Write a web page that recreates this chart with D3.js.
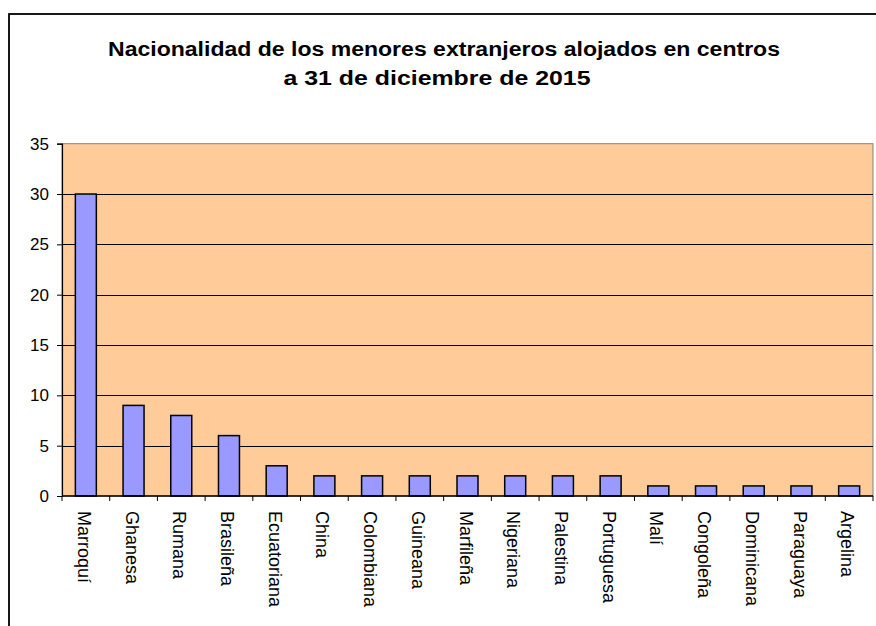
<!DOCTYPE html>
<html>
<head>
<meta charset="utf-8">
<script src="https://cdn.jsdelivr.net/npm/d3@7"></script>
<style>
  html, body { margin: 0; padding: 0; background: #fff; }
  svg { display: block; }
  text { font-family: Arial, "Liberation Sans", sans-serif; fill: #000; }
</style>
</head>
<body>
<svg id="chart" width="876" height="626"></svg>
<script>
const categories = ["Marroquí","Ghanesa","Rumana","Brasileña","Ecuatoriana","China","Colombiana","Guineana","Marfileña","Nigeriana","Palestina","Portuguesa","Malí","Congoleña","Dominicana","Paraguaya","Argelina"];
const values = [30, 9, 8, 6, 3, 2, 2, 2, 2, 2, 2, 2, 1, 1, 1, 1, 1];
const yTicks = [0, 5, 10, 15, 20, 25, 30, 35];
const titleLines = ["Nacionalidad de los menores extranjeros alojados en centros", "a 31 de diciembre de 2015"];

const svg = d3.select("#chart");
const W = 876, H = 626;
const plot = { left: 62, right: 873, top: 143.7, bottom: 496 };

svg.append("rect").attr("width", W).attr("height", H).attr("fill", "#fff");

// outer frame (cropped at right and bottom)
svg.append("rect")
  .attr("x", 9).attr("y", 14)
  .attr("width", W + 10).attr("height", H + 10)
  .attr("fill", "none").attr("stroke", "#000").attr("stroke-width", 1.8);

// title (horizontally stretched as in the reference)
svg.append("text").attr("x", 444).attr("y", 56).attr("text-anchor", "middle")
  .attr("font-size", 20).attr("font-weight", "bold")
  .attr("textLength", 672).attr("lengthAdjust", "spacingAndGlyphs")
  .text(titleLines[0]);
svg.append("text").attr("x", 437).attr("y", 85).attr("text-anchor", "middle")
  .attr("font-size", 20).attr("font-weight", "bold")
  .attr("textLength", 307).attr("lengthAdjust", "spacingAndGlyphs")
  .text(titleLines[1]);

const x = d3.scaleBand().domain(categories).range([plot.left, plot.right])
  .paddingInner(0.56).paddingOuter(0.28);
const y = d3.scaleLinear().domain([0, 35]).range([plot.bottom, plot.top]);

// plot background
svg.append("rect")
  .attr("x", plot.left).attr("y", plot.top)
  .attr("width", plot.right - plot.left).attr("height", plot.bottom - plot.top)
  .attr("fill", "#FFCC99").attr("stroke", "#808080").attr("stroke-width", 1);

// gridlines
svg.append("g").selectAll("line")
  .data(yTicks.filter(t => t > 0 && t < 35))
  .join("line")
  .attr("x1", plot.left).attr("x2", plot.right)
  .attr("y1", d => Math.round(y(d)) + 0.5).attr("y2", d => Math.round(y(d)) + 0.5)
  .attr("stroke", "#000").attr("stroke-width", 1);

// bars
svg.append("g").selectAll("rect")
  .data(values)
  .join("rect")
  .attr("x", (d, i) => x(categories[i]))
  .attr("y", d => y(d))
  .attr("width", x.bandwidth())
  .attr("height", d => y(0) - y(d))
  .attr("fill", "#9999FF")
  .attr("stroke", "#000").attr("stroke-width", 1.5);

// y axis
const yAxis = d3.axisLeft(y).tickValues(yTicks).tickSize(5).tickPadding(8).tickFormat(d3.format("d"));
const gy = svg.append("g").attr("transform", `translate(${plot.left},0)`).call(yAxis);
gy.select(".domain").attr("stroke", "#000").attr("stroke-width", 1.2);
gy.selectAll(".tick line").attr("stroke", "#000");
gy.selectAll(".tick text").attr("font-size", 17).attr("font-family", "Arial, 'Liberation Sans', sans-serif").attr("fill", "#000");

// x axis line
svg.append("line").attr("x1", plot.left).attr("x2", plot.right)
  .attr("y1", plot.bottom).attr("y2", plot.bottom)
  .attr("stroke", "#000").attr("stroke-width", 1.5);

// x ticks at band boundaries
const step = x.step();
const edges = categories.map((c, i) => plot.left + i * step).concat([plot.right]);
svg.append("g").selectAll("line").data(edges).join("line")
  .attr("x1", d => d).attr("x2", d => d)
  .attr("y1", plot.bottom).attr("y2", plot.bottom + 5)
  .attr("stroke", "#000").attr("stroke-width", 1);

// x labels
svg.append("g").selectAll("text").data(categories).join("text")
  .attr("transform", d => `translate(${x(d) + x.bandwidth() / 2},511) rotate(90)`)
  .attr("dy", "0.44em")
  .attr("font-size", 18)
  .attr("text-anchor", "start")
  .text(d => d);
</script>
</body>
</html>
